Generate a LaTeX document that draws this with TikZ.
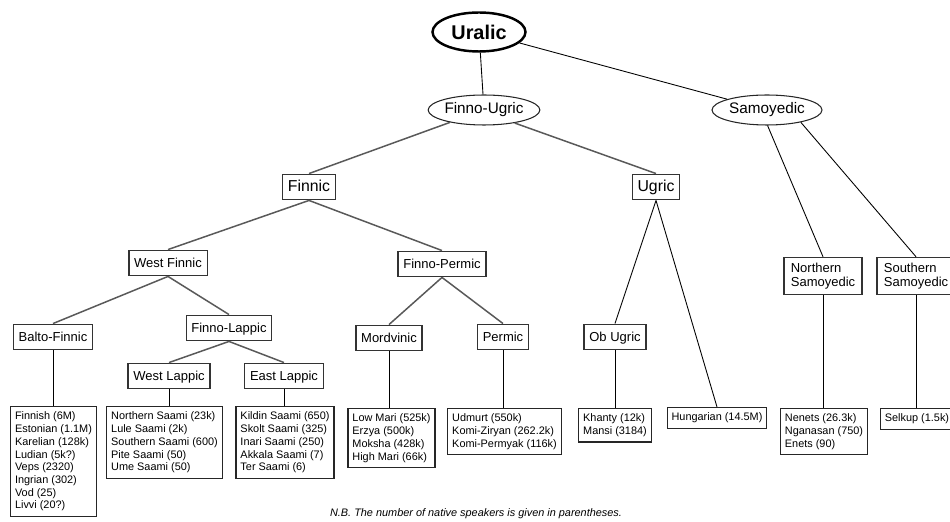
\documentclass[tikz,border=0pt]{standalone}
\usepackage{fontspec}
\setmainfont{Liberation Sans}
\usetikzlibrary{shapes.geometric}

\begin{document}
\begin{tikzpicture}[font=\fontsize{7.4}{8.3}\selectfont,
	box/.style={draw=black!80, line width=0.7pt, fill=white, inner xsep=3pt, inner ysep=2.6pt, text height=0.72em, text depth=0.22em},
	bigbox/.style={box, font=\fontsize{9}{10}\selectfont},
	twobox/.style={draw=black!80, line width=0.7pt, align=left, inner xsep=3pt, inner ysep=3pt, minimum width=1.56cm},
	leaf/.style={draw=black!85, line width=0.7pt, align=left, anchor=north, inner xsep=2.5pt, inner ysep=3pt, font=\fontsize{6.2}{7.25}\selectfont},
	group/.style={draw=black!85, ellipse, line width=0.6pt, inner sep=0pt, minimum width=2.2cm, minimum height=0.6cm, font=\fontsize{8.7}{10}\selectfont},
	edge/.style={draw=black!65, line width=0.85pt},
	stem/.style={draw=black, line width=0.5pt}]
		\useasboundingbox (0,0) rectangle (19,10.42);
		%\draw [help lines] (0,0) grid (19,10);
		%top
		\node [draw=black, ellipse, line width=1.4pt, minimum width=1.86cm, minimum height=0.78cm, inner sep=0pt, font=\fontsize{11.3}{13}\selectfont\bfseries] (uralic) at (9.58,9.78) {Uralic};
		\node [group] (fu) at (9.68,8.22) {Finno-Ugric};
		\node [group] (sam) at (15.34,8.22) {Samoyedic};
		\draw [stem] (uralic) -- (fu);
		\draw [stem] (uralic) -- (sam);
		%Finno-Ugric
		\node [bigbox] (finnic) at (6.18,6.68) {Finnic};
		\node [bigbox] (ugric) at (13.12,6.68) {Ugric};
		\draw [edge] (fu.-160) -- (finnic.north);
		\draw [edge] (fu.-23) -- (ugric.north);
		%Finnic
		\node [box] (wfinnic) at (3.36,5.16) {West Finnic};
		\node [box] (fpermic) at (8.84,5.14) {Finno-Permic};
		\draw [edge] (finnic.south) -- (wfinnic.north);
		\draw [edge] (finnic.south) -- (fpermic.north);
		%West Finnic
		\node [box] (bfinnic) at (1.06,3.68) {Balto-Finnic};
		\node [box] (flappic) at (4.58,3.86) {Finno-Lappic};
		\draw [edge] (wfinnic.south) -- (bfinnic.north);
		\draw [edge] (wfinnic.south) -- (flappic.north);
		\node [box] (wlappic) at (3.38,2.90) {West Lappic};
		\node [box] (elappic) at (5.68,2.90) {East Lappic};
		\draw [edge] (flappic.south) -- (wlappic.north);
		\draw [edge] (flappic.south) -- (elappic.north);
		%Finno-Permic
		\node [box] (mordvinic) at (7.78,3.66) {Mordvinic};
		\node [box] (permic) at (10.06,3.68) {Permic};
		\draw [edge] (fpermic.south) -- (mordvinic.north);
		\draw [edge] (fpermic.south) -- (permic.north);
		%Ugric
		\node [box] (obugric) at (12.30,3.68) {Ob Ugric};
		\node [leaf] (hungarian) at (14.34,2.28) {Hungarian (14.5M)};
		\draw [stem] (ugric.south) -- (obugric.north);
		\draw [stem] (ugric.south) -- (hungarian.north);
		%Samoyedic
		\node [twobox] (nsam) at (16.46,4.90) {Northern\\Samoyedic};
		\node [twobox] (ssam) at (18.32,4.90) {Southern\\Samoyedic};
		\draw [stem] (sam.-88) -- (nsam.north);
		\draw [stem] (sam.-20) -- (ssam.north);
		%languages
		\node [leaf] (lbfinnic) at (1.07,2.30) {Finnish (6M)\\Estonian (1.1M)\\Karelian (128k)\\Ludian (5k?)\\Veps (2320)\\Ingrian (302)\\Vod (25)\\Livvi (20?)};
		\node [leaf] (lwlappic) at (3.29,2.30) {Northern Saami (23k)\\Lule Saami (2k)\\Southern Saami (600)\\Pite Saami (50)\\Ume Saami (50)};
		\node [leaf] (lelappic) at (5.70,2.30) {Kildin Saami (650)\\Skolt Saami (325)\\Inari Saami (250)\\Akkala Saami (7)\\Ter Saami (6)};
		\node [leaf] (lmordvinic) at (7.83,2.26) {Low Mari (525k)\\Erzya (500k)\\Moksha (428k)\\High Mari (66k)};
		\node [leaf] (lpermic) at (10.09,2.26) {Udmurt (550k)\\Komi-Ziryan (262.2k)\\Komi-Permyak (116k)};
		\node [leaf] (lobugric) at (12.30,2.26) {Khanty (12k)\\Mansi (3184)};
		\node [leaf] (lnsam) at (16.48,2.26) {Nenets (26.3k)\\Nganasan (750)\\Enets (90)};
		\node [leaf] (selkup) at (18.34,2.26) {Selkup (1.5k)};
		\draw [stem] (bfinnic.south) -- (bfinnic.south |- lbfinnic.north);
		\draw [stem] (wlappic.south) -- (wlappic.south |- lwlappic.north);
		\draw [stem] (elappic.south) -- (elappic.south |- lelappic.north);
		\draw [stem] (mordvinic.south) -- (mordvinic.south |- lmordvinic.north);
		\draw [stem] (permic.south) -- (permic.south |- lpermic.north);
		\draw [stem] (obugric.south) -- (obugric.south |- lobugric.north);
		\draw [stem] (nsam.south) -- (nsam.south |- lnsam.north);
		\draw [stem] (ssam.south) -- (ssam.south |- selkup.north);
		%note
		\node [font=\fontsize{6.2}{7}\selectfont\itshape] (note) at (9.52,0.14) {N.B. The number of native speakers is given in parentheses.};
\end{tikzpicture}
\end{document}
